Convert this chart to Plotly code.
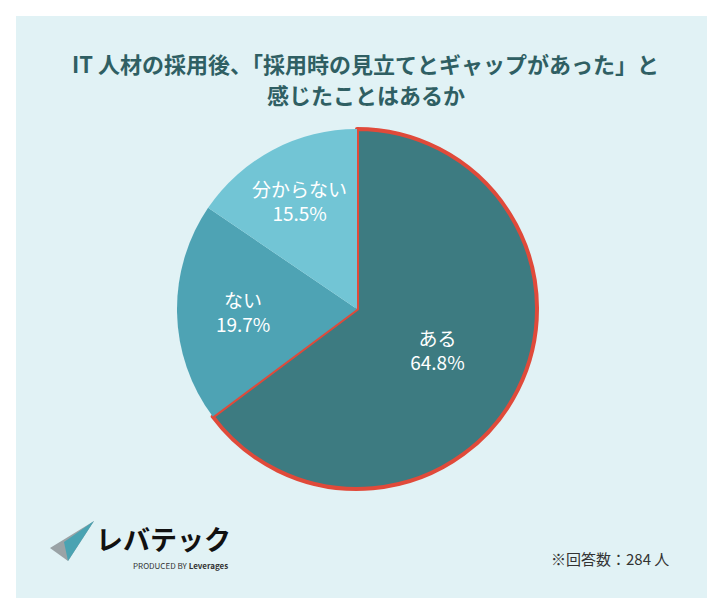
import plotly.graph_objects as go

labels = ["ある", "ない", "分からない"]
values = [64.8, 19.7, 15.5]
colors = ["#3d7b81", "#4ea3b4", "#72c5d5"]

title_lines = ["IT 人材の採用後、「採用時の見立てとギャップがあった」と", "感じたことはあるか"]
note_text = "※回答数：284 人"

W, H = 715, 601
font = "Noto Sans CJK JP"

fig = go.Figure(go.Pie(
    labels=labels, values=values, sort=False, direction="clockwise", rotation=0,
    marker=dict(colors=colors, line=dict(color=["#e04a3a", "rgba(0,0,0,0)", "rgba(0,0,0,0)"], width=[4, 0, 0])),
    texttemplate="%{label}<br>%{value}%",
    textposition="inside", insidetextorientation="horizontal",
    textfont=dict(color="white", size=19, family=font),
    domain=dict(x=[169 / W, 529 / W], y=[1 - 481 / H, 1 - 121 / H]),
    showlegend=False, hoverinfo="skip",
))

annotations = [
    dict(text=f"<b>{t}</b>", x=0.5, y=1 - yy / H, xref="paper", yref="paper", showarrow=False,
         font=dict(size=22, color="#2f5f63", family=font), yanchor="middle")
    for t, yy in zip(title_lines, [55, 86])
]
annotations += [
    dict(text="<b>レバテック</b>", x=86 / W, y=1 - 530 / H, xref="paper", yref="paper", showarrow=False,
         xanchor="left", font=dict(size=27, color="#111"), yanchor="middle"),
    dict(text="PRODUCED BY <b>Leverages</b>", x=222 / W, y=1 - 557 / H, xref="paper", yref="paper",
         showarrow=False, xanchor="right", font=dict(size=8, color="#333"), yanchor="middle"),
    dict(text=note_text, x=663 / W, y=1 - 550 / H, xref="paper", yref="paper", showarrow=False,
         xanchor="right", font=dict(size=15, color="#333"), yanchor="middle"),
]

fig.update_layout(
    width=W, height=H, margin=dict(l=0, r=0, t=0, b=0),
    paper_bgcolor="white",
    font=dict(family=font),
    shapes=[
        dict(type="rect", xref="paper", yref="paper", x0=8 / W, x1=707 / W, y0=1 - 590 / H, y1=1 - 8 / H,
             fillcolor="#e1f2f5", line_width=0, layer="below"),
        # logo mark
        dict(type="path", xref="paper", yref="paper",
             path=f"M {42/W} {1-540/H} L {86/W} {1-513/H} L {60/W} {1-553/H} Z",
             fillcolor="#9aa3a6", line_width=0),
        dict(type="path", xref="paper", yref="paper",
             path=f"M {56/W} {1-534/H} L {86/W} {1-513/H} L {60/W} {1-553/H} Z",
             fillcolor="#4aa3b2", line_width=0),
    ],
    annotations=annotations,
)

fig.write_html("out.html")
